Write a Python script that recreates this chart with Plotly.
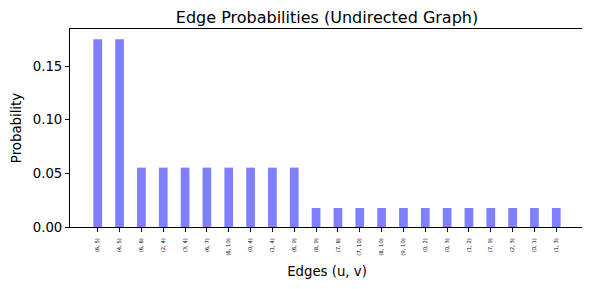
import plotly.graph_objects as go

edges = ["(6, 5)", "(4, 5)", "(6, 8)", "(2, 4)", "(3, 4)", "(6, 7)", "(6, 10)", "(0, 4)",
         "(1, 4)", "(6, 9)", "(8, 9)", "(7, 8)", "(7, 10)", "(8, 10)", "(9, 10)", "(0, 2)",
         "(0, 3)", "(1, 2)", "(7, 9)", "(2, 3)", "(0, 1)", "(1, 3)"]
probs = [0.175, 0.175] + [0.0553] * 8 + [0.0177] * 12
ytick_vals = [0.0, 0.05, 0.10, 0.15]
ytick_text = ["0.00", "0.05", "0.10", "0.15"]

x = list(range(len(edges)))
fig = go.Figure(go.Bar(x=x, y=probs, width=0.4, marker=dict(color="rgba(0,0,255,0.5)", line=dict(width=0))))

font = "DejaVu Sans"
W, H = 582, 281  # page body has an 8px margin
fig.update_layout(
    width=W, height=H,
    margin=dict(l=62, r=6, t=21, b=62),
    plot_bgcolor="white", paper_bgcolor="white",
    font=dict(family=font, color="black"),
    showlegend=False,
    title=dict(text="Edge Probabilities (Undirected Graph)", x=319 / W, xanchor="center",
               y=1 - 9.5 / H, yanchor="middle", font=dict(size=16, family=font)),
    xaxis=dict(range=[-1.27, 22.27], tickvals=x, ticktext=edges, tickangle=-90,
               tickfont=dict(size=5.3, family=font), ticks="outside", ticklen=4, tickcolor="black",
               ticklabelstandoff=4,
               showline=True, linecolor="black", linewidth=1, mirror=True, showgrid=False,
               zeroline=False, automargin=False,
               title=dict(text="Edges (u, v)", font=dict(size=13.3, family=font), standoff=11)),
    yaxis=dict(range=[0, 0.1845], tickvals=ytick_vals, ticktext=ytick_text,
               tickfont=dict(size=13.3, family=font), ticks="outside", ticklen=4, tickcolor="black",
               showline=True, linecolor="black", linewidth=1, mirror=True, showgrid=False,
               zeroline=False, automargin=False,
               title=dict(text="Probability", font=dict(size=13.3, family=font), standoff=8)),
)
fig.write_html("out.html")
